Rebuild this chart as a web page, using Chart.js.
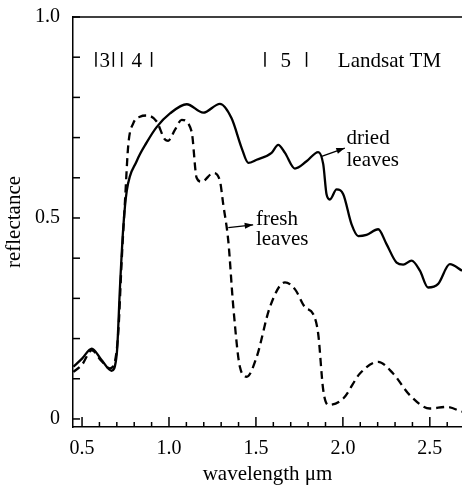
<!DOCTYPE html>
<html>
<head>
<meta charset="utf-8">
<script src="https://cdn.jsdelivr.net/npm/chart.js@4"></script>
<style>
  html, body { margin: 0; padding: 0; background: #fff; }
  #wrap { width: 462px; height: 487px; }
</style>
</head>
<body>
<div id="wrap"><canvas id="chart"></canvas></div>
<script>
// dried leaves (solid)
var driedWl = [0.45, 0.50, 0.556, 0.61, 0.67, 0.70, 0.718, 0.737, 0.757, 0.814, 0.872, 0.929, 1.006, 1.102, 1.197, 1.293, 1.36, 1.418, 1.456, 1.504, 1.59, 1.628, 1.667, 1.724, 1.791, 1.858, 1.887, 1.906, 1.925, 1.964, 2.002, 2.05, 2.088, 2.136, 2.203, 2.251, 2.309, 2.347, 2.395, 2.443, 2.49, 2.548, 2.615, 2.685];
var driedRefl = [0.13, 0.15, 0.175, 0.148, 0.12, 0.163, 0.327, 0.476, 0.567, 0.641, 0.688, 0.726, 0.760, 0.783, 0.762, 0.784, 0.748, 0.674, 0.637, 0.645, 0.662, 0.682, 0.662, 0.623, 0.641, 0.664, 0.634, 0.559, 0.546, 0.571, 0.559, 0.484, 0.455, 0.458, 0.472, 0.435, 0.389, 0.384, 0.394, 0.369, 0.327, 0.336, 0.385, 0.369];

// fresh leaves (dashed)
var freshWl = [0.45, 0.50, 0.556, 0.61, 0.661, 0.69, 0.709, 0.728, 0.747, 0.766, 0.795, 0.833, 0.872, 0.929, 0.977, 0.995, 1.034, 1.073, 1.13, 1.159, 1.188, 1.255, 1.293, 1.312, 1.341, 1.37, 1.408, 1.447, 1.504, 1.58, 1.667, 1.724, 1.782, 1.829, 1.858, 1.887, 1.916, 2.002, 2.098, 2.203, 2.289, 2.385, 2.5, 2.596, 2.685];
var freshRefl = [0.117, 0.135, 0.171, 0.145, 0.126, 0.145, 0.22, 0.394, 0.542, 0.682, 0.736, 0.752, 0.755, 0.74, 0.695, 0.692, 0.719, 0.744, 0.715, 0.6, 0.59, 0.612, 0.592, 0.534, 0.443, 0.278, 0.129, 0.105, 0.154, 0.278, 0.34, 0.323, 0.278, 0.261, 0.212, 0.072, 0.035, 0.051, 0.113, 0.142, 0.113, 0.059, 0.026, 0.030, 0.018];

// Landsat TM bands
var bandNames = ['3', '4', '5'];
var bandStart = [0.58, 0.728, 1.552];
var bandEnd = [0.68, 0.90, 1.791];

var xTicks = [0.5, 0.6, 0.7, 0.8, 0.9, 1.0, 1.1, 1.2, 1.3, 1.4, 1.5, 1.6, 1.7, 1.8, 1.9, 2.0, 2.1, 2.2, 2.3, 2.4, 2.5, 2.6];
var yTicks = [0, 0.1, 0.2, 0.3, 0.4, 0.5, 0.6, 0.7, 0.8, 0.9, 1.0];

function toPoints(xs, ys) {
  return xs.map(function (x, i) { return { x: x, y: ys[i] }; });
}

var serif = 'Liberation Serif';

// inward ticks, top frame line, band marks and labels
var decorations = {
  id: 'decorations',
  afterDraw: function (chart) {
    var ctx = chart.ctx;
    var xs = chart.scales.x, ys = chart.scales.y;
    var area = chart.chartArea;
    var px = function (v) { return xs.getPixelForValue(v); };
    var py = function (v) { return ys.getPixelForValue(v); };

    ctx.save();
    ctx.strokeStyle = '#000';
    ctx.fillStyle = '#000';
    ctx.lineWidth = 1.5;

    // top frame
    ctx.beginPath();
    ctx.moveTo(area.left, area.top);
    ctx.lineTo(area.right, area.top);
    ctx.stroke();

    // x ticks
    xTicks.forEach(function (v) {
      var major = Math.abs(v * 2 - Math.round(v * 2)) < 1e-6;
      var x = px(v);
      ctx.beginPath();
      ctx.moveTo(x, area.bottom);
      ctx.lineTo(x, area.bottom - (major ? 10 : 5));
      ctx.stroke();
    });
    // y ticks
    yTicks.forEach(function (v) {
      var y = py(v);
      ctx.beginPath();
      ctx.moveTo(area.left, y);
      ctx.lineTo(area.left + 7, y);
      ctx.stroke();
    });

    // band markers
    ctx.font = '21px "' + serif + '"';
    ctx.textAlign = 'center';
    ctx.textBaseline = 'alphabetic';
    var yTop = py(0.913), yBot = py(0.876);
    bandNames.forEach(function (name, i) {
      [bandStart[i], bandEnd[i]].forEach(function (v) {
        ctx.beginPath();
        ctx.moveTo(px(v), yTop);
        ctx.lineTo(px(v), yBot);
        ctx.stroke();
      });
      ctx.fillText(name, px((bandStart[i] + bandEnd[i]) / 2), yBot);
    });

    ctx.textAlign = 'left';
    ctx.fillText('Landsat TM', px(1.971), yBot);

    ctx.fillText('dried', px(2.021), py(0.683));
    ctx.fillText('leaves', px(2.021), py(0.629));
    ctx.fillText('fresh', px(1.50), py(0.483));
    ctx.fillText('leaves', px(1.50), py(0.433));

    function arrow(x0, y0, x1, y1) {
      var a = px(x0), b = py(y0), c = px(x1), d = py(y1);
      ctx.lineWidth = 1.3;
      ctx.beginPath();
      ctx.moveTo(a, b);
      ctx.lineTo(c, d);
      ctx.stroke();
      var ang = Math.atan2(d - b, c - a);
      ctx.beginPath();
      ctx.moveTo(c, d);
      ctx.lineTo(c - 9 * Math.cos(ang - 0.35), d - 9 * Math.sin(ang - 0.35));
      ctx.lineTo(c - 9 * Math.cos(ang + 0.35), d - 9 * Math.sin(ang + 0.35));
      ctx.closePath();
      ctx.fill();
    }
    arrow(1.878, 0.653, 2.011, 0.674);
    arrow(1.341, 0.476, 1.484, 0.483);

    ctx.restore();
  }
};

new Chart(document.getElementById('chart'), {
  type: 'line',
  data: {
    datasets: [{
      label: 'dried leaves',
      data: toPoints(driedWl, driedRefl),
      borderColor: '#000',
      borderWidth: 2.3,
      pointRadius: 0,
      cubicInterpolationMode: 'monotone',
      fill: false
    }, {
      label: 'fresh leaves',
      data: toPoints(freshWl, freshRefl),
      borderColor: '#000',
      borderWidth: 2.3,
      borderDash: [8, 5],
      pointRadius: 0,
      cubicInterpolationMode: 'monotone',
      fill: false
    }]
  },
  options: {
    responsive: true,
    maintainAspectRatio: false,
    animation: false,
    layout: { padding: { top: 15, right: 0, left: 0, bottom: 0 } },
    plugins: {
      legend: { display: false },
      tooltip: { enabled: false }
    },
    scales: {
      x: {
        type: 'linear',
        min: 0.448,
        max: 2.685,
        afterBuildTicks: function (scale) {
          scale.ticks = xTicks.map(function (v) { return { value: v }; });
        },
        afterFit: function (scale) { scale.height = 60; },
        grid: { display: false },
        border: { display: true, color: '#000', width: 1.5 },
        ticks: {
          autoSkip: false,
          maxRotation: 0,
          padding: 2,
          color: '#000',
          font: { family: serif, size: 20 },
          callback: function (v) {
            return Math.abs(v * 2 - Math.round(v * 2)) < 1e-6 ? v.toFixed(1) : '';
          }
        },
        title: {
          display: true,
          text: 'wavelength \u03bcm',
          color: '#000',
          font: { family: serif, size: 21 },
          padding: { top: 4, bottom: 0 }
        }
      },
      y: {
        type: 'linear',
        min: -0.02,
        max: 1.0,
        afterBuildTicks: function (scale) {
          scale.ticks = yTicks.map(function (v) { return { value: v }; });
        },
        afterFit: function (scale) { scale.width = 73; },
        grid: { display: false },
        border: { display: true, color: '#000', width: 1.5 },
        ticks: {
          autoSkip: false,
          padding: 5,
          color: '#000',
          font: { family: serif, size: 20 },
          callback: function (v) {
            if (Math.abs(v) < 1e-6) return '0';
            if (Math.abs(v - 0.5) < 1e-6) return '0.5';
            if (Math.abs(v - 1) < 1e-6) return '1.0';
            return '';
          }
        },
        title: {
          display: true,
          text: 'reflectance',
          color: '#000',
          font: { family: serif, size: 21 },
          padding: { top: 2, bottom: 0 }
        }
      }
    }
  },
  plugins: [decorations]
});
</script>
</body>
</html>
